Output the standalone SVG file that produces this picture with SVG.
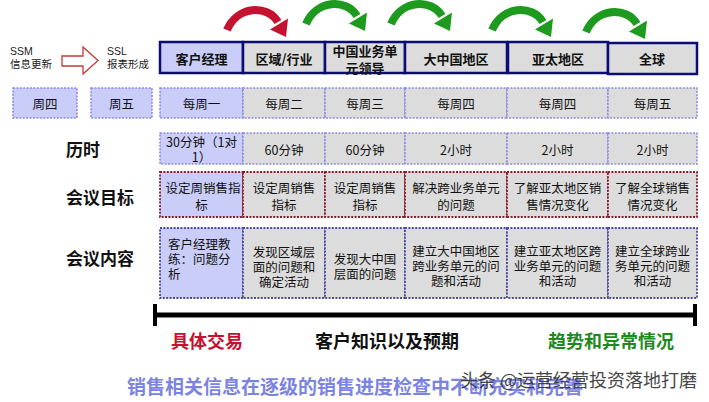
<svg xmlns="http://www.w3.org/2000/svg" width="709" height="402" viewBox="0 0 709 402">
<style>
text{font-family:"Noto Sans CJK SC","Liberation Sans",sans-serif;dominant-baseline:central;fill:#111}
.c{font-size:12.5px;text-anchor:middle}
.l{font-size:12.5px;text-anchor:start}
.hb{font-size:13px;font-weight:bold;text-anchor:middle}
.lab{font-size:17px;font-weight:bold;text-anchor:start}
.big{font-size:18px;font-weight:bold;text-anchor:middle}
.sm{font-family:"Liberation Sans","Noto Sans CJK SC",sans-serif;font-size:10.5px;fill:#222;text-anchor:start}
.hdr{stroke:#0c0c78;stroke-width:2.5}
.fb{fill:#c9cdf7}
.fg{fill:#dcdcdc}
.wk{stroke:#8c8ce2;stroke-width:1.6;stroke-dasharray:2 1.4}
.goal{stroke:#8b1a2a;stroke-width:1.8;stroke-dasharray:2 1.4}
.cont{stroke:#4a4aa0;stroke-width:1.8;stroke-dasharray:2 1.4}
</style>
<defs>
<g id="arc">
<path d="M0 26 C10 2 40 0 51 18" fill="none" stroke="currentColor" stroke-width="8"/>
<polygon points="43,25.5 61,14.5 59,33" fill="currentColor"/>
</g>
</defs>
<rect width="709" height="402" fill="#ffffff"/>

<g id="connectors">
<use href="#arc" transform="translate(227,4)" color="#c41230"/>
<use href="#arc" transform="translate(306,-2)" color="#1e9b1e"/>
<use href="#arc" transform="translate(391,-2)" color="#1e9b1e"/>
<use href="#arc" transform="translate(492,4)" color="#1e9b1e"/>
<use href="#arc" transform="translate(586,6)" color="#1e9b1e"/>
<polygon points="62,56 83,56 83,47 98,60.5 83,74 83,66 62,66" fill="#ffffff" stroke="#c23a3a" stroke-width="1.3"/>
</g>

<g id="ssm">
<text class="sm" x="10" y="51">SSM</text>
<text class="sm" x="10" y="64">信息更新</text>
</g>
<g id="ssl">
<text class="sm" x="107" y="51">SSL</text>
<text class="sm" x="107" y="64">报表形成</text>
</g>

<g id="header">
<g id="h1"><rect class="hdr fb" x="160" y="42" width="83" height="31"/><text class="hb" x="201.5" y="58">客户经理</text></g>
<g id="h2"><rect class="hdr fg" x="243" y="42" width="82" height="31"/><text class="hb" x="284" y="58">区域/行业</text></g>
<g id="h3"><rect class="hdr fg" x="325" y="42" width="80" height="31"/><text class="hb" x="365" y="50">中国业务单</text><text class="hb" x="365" y="67">元领导</text></g>
<g id="h4"><rect class="hdr fg" x="405" y="42" width="102" height="31"/><text class="hb" x="456" y="58">大中国地区</text></g>
<g id="h5"><rect class="hdr fg" x="508" y="42" width="100" height="31"/><text class="hb" x="558" y="58">亚太地区</text></g>
<g id="h6"><rect class="hdr fg" x="608" y="43" width="89" height="31"/><text class="hb" x="652" y="58">全球</text></g>
</g>

<g id="weekdays">
<g id="w0a"><rect class="wk fb" x="13" y="88" width="64" height="30"/><text class="c" x="45" y="103">周四</text></g>
<g id="w0b"><rect class="wk fb" x="91" y="88" width="61" height="30"/><text class="c" x="121.5" y="103">周五</text></g>
<g id="w1"><rect class="wk fb" x="160" y="88" width="83" height="30"/><text class="c" x="201.5" y="103">每周一</text></g>
<g id="w2"><rect class="wk fg" x="243" y="88" width="82" height="30"/><text class="c" x="284" y="103">每周二</text></g>
<g id="w3"><rect class="wk fg" x="325" y="88" width="80" height="30"/><text class="c" x="365" y="103">每周三</text></g>
<g id="w4"><rect class="wk fg" x="405" y="88" width="102" height="30"/><text class="c" x="456" y="103">每周四</text></g>
<g id="w5"><rect class="wk fg" x="507" y="88" width="101" height="30"/><text class="c" x="557.5" y="103">每周四</text></g>
<g id="w6"><rect class="wk fg" x="608" y="88" width="89" height="30"/><text class="c" x="652.5" y="103">每周五</text></g>
</g>

<g id="duration">
<text class="lab" x="66" y="148">历时</text>
<g id="d1"><rect class="wk fb" x="160" y="133" width="83" height="31"/><text class="c" x="201.5" y="141">30分钟（1对</text><text class="c" x="201.5" y="156">1）</text></g>
<g id="d2"><rect class="wk fg" x="243" y="133" width="82" height="31"/><text class="c" x="284" y="149">60分钟</text></g>
<g id="d3"><rect class="wk fg" x="325" y="133" width="80" height="31"/><text class="c" x="365" y="149">60分钟</text></g>
<g id="d4"><rect class="wk fg" x="405" y="133" width="102" height="31"/><text class="c" x="456" y="149">2小时</text></g>
<g id="d5"><rect class="wk fg" x="507" y="133" width="101" height="31"/><text class="c" x="557.5" y="149">2小时</text></g>
<g id="d6"><rect class="wk fg" x="608" y="133" width="89" height="31"/><text class="c" x="652.5" y="149">2小时</text></g>
</g>

<g id="goals">
<text class="lab" x="66" y="196">会议目标</text>
<g id="g1"><rect class="goal fb" x="160" y="172" width="83" height="45"/><text class="c" x="203" y="187">设定周销售指</text><text class="c" x="201.5" y="204">标</text></g>
<g id="g2"><rect class="goal fg" x="243" y="172" width="82" height="45"/><text class="c" x="284" y="187">设定周销售</text><text class="c" x="284" y="204">指标</text></g>
<g id="g3"><rect class="goal fg" x="325" y="172" width="80" height="45"/><text class="c" x="365" y="187">设定周销售</text><text class="c" x="365" y="204">指标</text></g>
<g id="g4"><rect class="goal fg" x="405" y="172" width="102" height="45"/><text class="c" x="456" y="187">解决跨业务单元</text><text class="c" x="456" y="204">的问题</text></g>
<g id="g5"><rect class="goal fg" x="507" y="172" width="101" height="45"/><text class="c" x="557.5" y="187">了解亚太地区销</text><text class="c" x="557.5" y="204">售情况变化</text></g>
<g id="g6"><rect class="goal fg" x="608" y="172" width="89" height="45"/><text class="c" x="652.5" y="187">了解全球销售</text><text class="c" x="652.5" y="204">情况变化</text></g>
</g>

<g id="content">
<text class="lab" x="66" y="257">会议内容</text>
<g id="c1"><rect class="cont fb" x="160" y="228" width="83" height="70"/><text class="l" x="168" y="243">客户经理教</text><text class="l" x="168" y="258">练：问题分</text><text class="l" x="168" y="273">析</text></g>
<g id="c2"><rect class="cont fg" x="243" y="228" width="82" height="70"/><text class="c" x="284" y="251">发现区域层</text><text class="c" x="284" y="266">面的问题和</text><text class="c" x="284" y="281">确定活动</text></g>
<g id="c3"><rect class="cont fg" x="325" y="228" width="80" height="70"/><text class="c" x="365" y="258">发现大中国</text><text class="c" x="365" y="273">层面的问题</text></g>
<g id="c4"><rect class="cont fg" x="405" y="228" width="102" height="70"/><text class="c" x="456" y="250">建立大中国地区</text><text class="c" x="456" y="265">跨业务单元的问</text><text class="c" x="456" y="280">题和活动</text></g>
<g id="c5"><rect class="cont fg" x="507" y="228" width="101" height="70"/><text class="c" x="557.5" y="250">建立亚太地区跨</text><text class="c" x="557.5" y="265">业务单元的问题</text><text class="c" x="557.5" y="280">和活动</text></g>
<g id="c6"><rect class="cont fg" x="608" y="228" width="89" height="70"/><text class="c" x="652.5" y="250">建立全球跨业</text><text class="c" x="652.5" y="265">务单元的问题</text><text class="c" x="652.5" y="280">和活动</text></g>
</g>

<g id="scale">
<line x1="154" y1="315" x2="696" y2="315" stroke="#000" stroke-width="5"/>
<line x1="155" y1="304" x2="155" y2="326" stroke="#000" stroke-width="4"/>
<line x1="695" y1="304" x2="695" y2="326" stroke="#000" stroke-width="4"/>
<text class="big" x="207" y="340" style="fill:#c41230">具体交易</text>
<text class="big" x="387" y="340" style="fill:#111">客户知识以及预期</text>
<text class="big" x="611" y="340" style="fill:#1e8a1e">趋势和异常情况</text>
</g>

<g id="caption">
<text x="127" y="385" style="font-size:19px;font-weight:bold;fill:#7b84e0;text-anchor:start">销售相关信息在逐级的销售进度检查中不断充实和完善</text>
<text x="460" y="379" style="font-size:18px;fill:#333;text-anchor:start;opacity:0.9">头条 @运营经营投资落地打磨</text>
</g>
</svg>
